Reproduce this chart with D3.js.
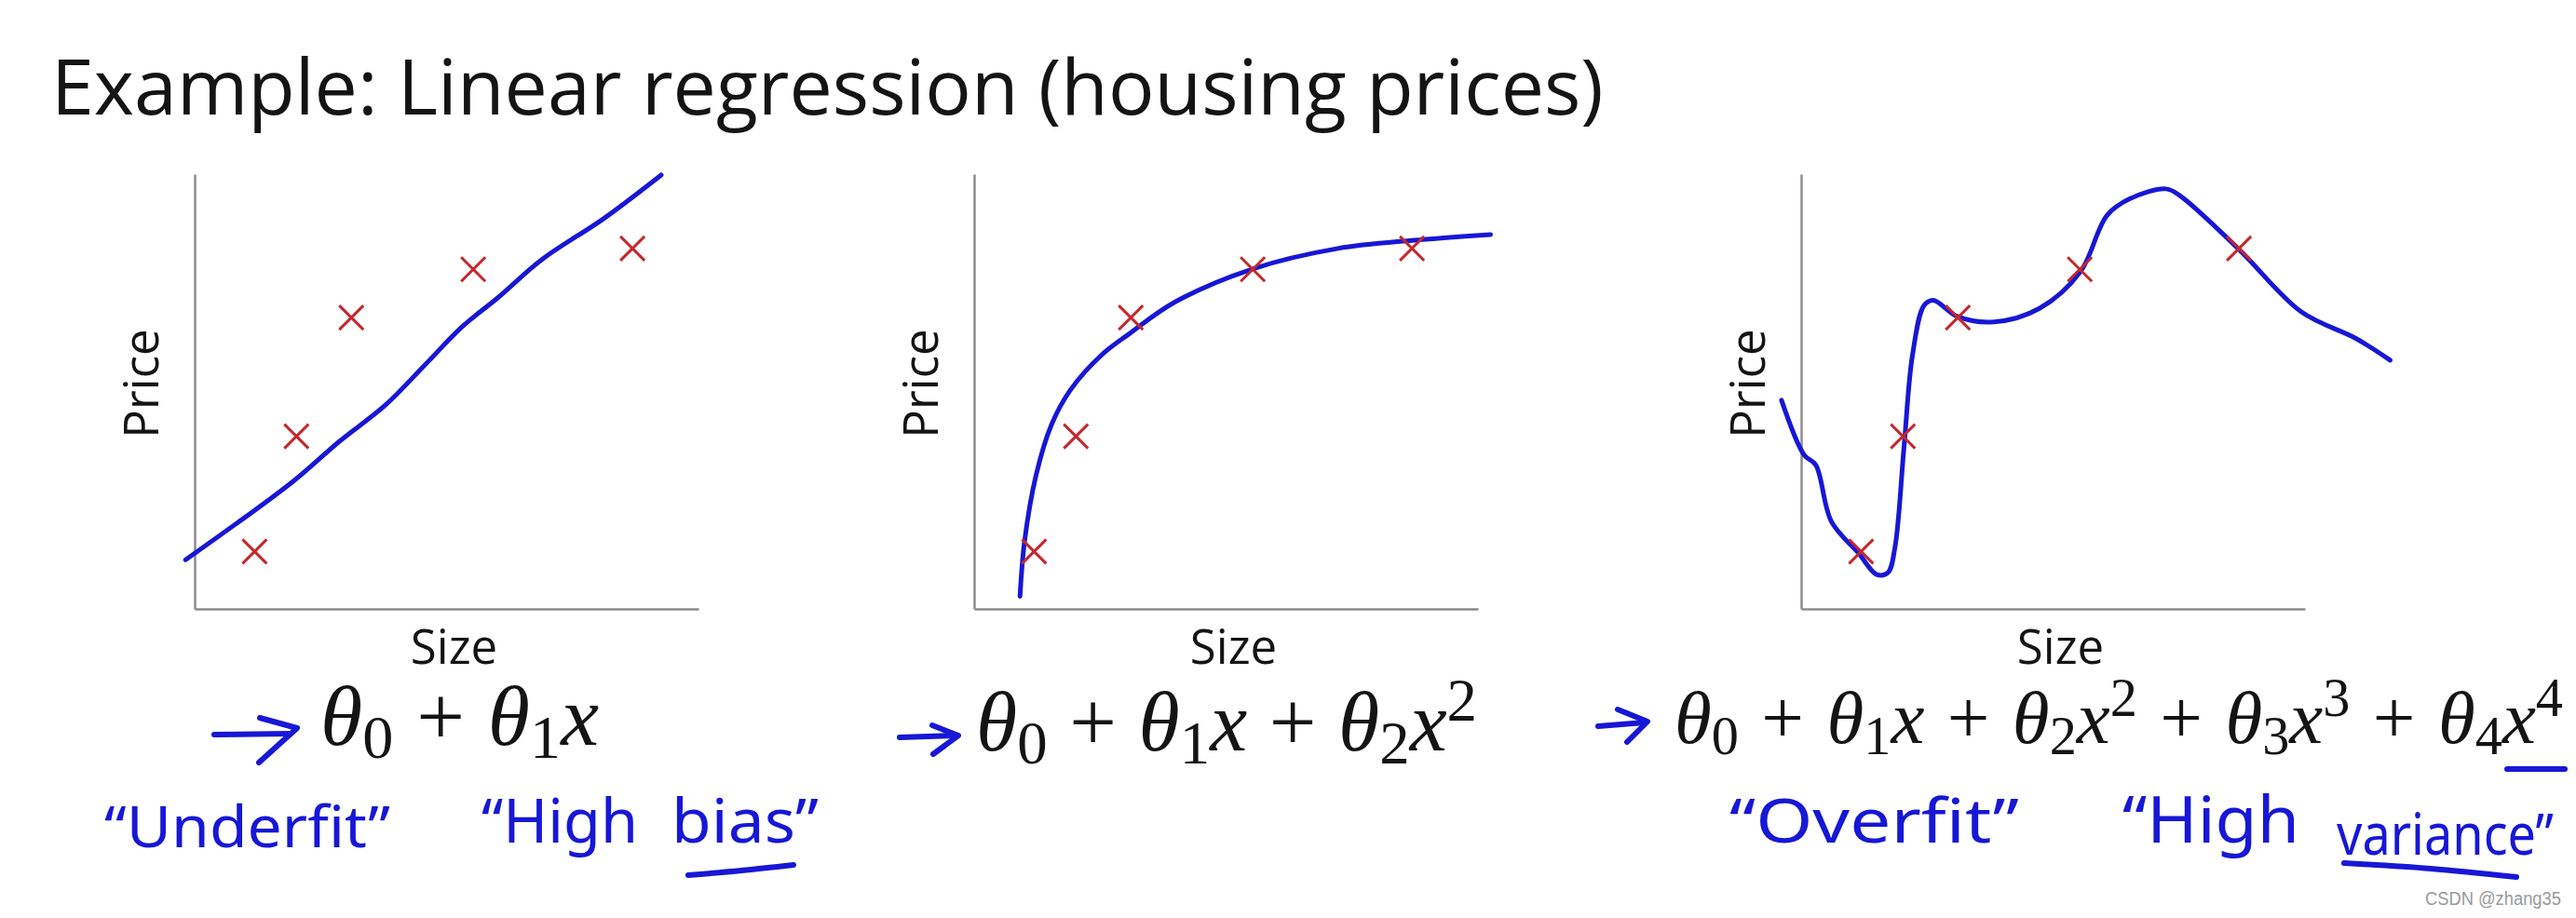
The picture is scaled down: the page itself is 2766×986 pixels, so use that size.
<!DOCTYPE html>
<html>
<head>
<meta charset="utf-8">
<script src="https://cdn.jsdelivr.net/npm/d3@7"></script>
<style>
	body { margin: 0; background: #fff; }
	svg { display: block; }
</style>
</head>
<body>
<svg id="chart" width="2766" height="986"></svg>
<script>
(function() {

// DATA

	var titleText = 'Example: Linear regression (housing prices)';
	var xLabel = 'Size';
	var yLabel = 'Price';
	var watermark = 'CSDN @zhang35';

	// the five houses, same in every panel (size / price on a 0-10 scale)
	var houseSize  = [1.19, 2.02, 3.11, 5.53, 8.69];
	var housePrice = [1.32, 3.97, 6.70, 7.81, 8.29];

	// hand drawn fits
	var fitLinSize   = [-0.18, 1.95, 2.87, 3.79, 4.57, 5.31, 5.99, 6.91, 8.11, 9.26];
	var fitLinPrice  = [1.13, 2.93, 3.85, 4.69, 5.61, 6.49, 7.13, 8.05, 8.97, 9.98];

	var fitQuadSize  = [0.91, 1.00, 1.23, 1.54, 1.92, 2.53, 3.07, 3.99, 5.53, 7.22, 8.75, 10.25];
	var fitQuadPrice = [0.29, 1.55, 3.08, 4.25, 5.05, 5.84, 6.32, 7.06, 7.82, 8.29, 8.48, 8.61];

	var fitQuartSize  = [-0.39, 0.06, 0.29, 0.60, 1.14, 1.50, 1.72, 1.86, 2.04, 2.21, 2.44, 2.62,
		3.11, 3.83, 4.73, 5.54, 6.07, 6.52, 7.24, 7.51, 8.68, 9.93, 11.01, 11.69];
	var fitQuartPrice = [4.80, 3.54, 3.31, 2.01, 1.28, 0.79, 0.83, 1.40, 3.70, 5.84, 6.98, 7.10,
		6.72, 6.60, 6.91, 7.75, 9.05, 9.43, 9.66, 9.51, 8.28, 6.83, 6.22, 5.72];

	var fitSizes  = [fitLinSize, fitQuadSize, fitQuartSize];
	var fitPrices = [fitLinPrice, fitQuadPrice, fitQuartPrice];

	// hypothesis degree under each panel
	var degrees = [1, 2, 4];

	// handwritten words under the formulas
	var noteWords = [
		['\u201CUnderfit\u201D', '\u201CHigh', 'bias\u201D'],
		[],
		['\u201COverfit\u201D', '\u201CHigh', 'variance\u201D']
	];

// LAYOUT

	var panelLeft = [209, 1046, 1934];
	var panelWidth = 541;
	var panelTop = 187;
	var panelBottom = 654;

	var formulaX = [344, 1048, 1798];
	var formulaW = [299, 538, 954];
	var formulaY = [800, 806, 798];
	var formulaSize = [92, 90, 81];

	// [x, width, baseline, font size] per word
	var noteWordPos = [
		[[112, 307, 910, 62], [517, 168, 905, 66], [721, 158, 905, 66]],
		[],
		[[1857, 311, 905, 66], [2279, 190, 905, 70], [2509, 233, 918, 62]]
	];

	var arrows = [
		{ shaft: [[230, 789], [312, 788]], head: [[279, 771], [319, 782], [278, 819]] },
		{ shaft: [[966, 792], [1026, 790]], head: [[1001, 779], [1029, 790], [1002, 810]] },
		{ shaft: [[1716, 780], [1766, 776]], head: [[1737, 762], [1769, 775], [1747, 797]] }
	];
	var underlines = [
		[[739, 940], [796, 935], [852, 929]],
		[[2692, 826], [2754, 826]],
		[[2517, 927], [2610, 933], [2702, 942]]
	];

	var blue = '#1717d6';
	var red = '#c4282c';
	var axisGrey = '#8c8c8c';
	var ink = '#141414';

	var svg = d3.select('#chart');
	svg.append('rect').attr('width', 2766).attr('height', 986).attr('fill', '#fff');

	// squeeze a text sideways so it spans exactly `width` px
	function fitText(text, x, y, width) {
		var len = text.node().getComputedTextLength();
		text.attr('x', 0).attr('y', 0)
			.attr('transform', 'translate(' + x + ',' + y + ') scale(' + (width / len) + ',1)');
	}

// TITLE

	var title = svg.append('text')
		.attr('font-family', "'Open Sans', 'Noto Sans', sans-serif")
		.attr('font-size', 82)
		.attr('fill', ink)
		.text(titleText);
	fitText(title, 55, 123, 1667);

// PANELS

	function drawPanel(i) {
		var g = svg.append('g').attr('class', 'panel');

		var x = d3.scaleLinear().domain([0, 10]).range([panelLeft[i], panelLeft[i] + panelWidth]);
		var y = d3.scaleLinear().domain([0, 10]).range([panelBottom, panelTop]);

		g.append('g')
			.attr('class', 'axis axis--x')
			.attr('transform', 'translate(0,' + panelBottom + ')')
			.call(d3.axisBottom(x).tickValues([]).tickSizeOuter(0));
		g.append('g')
			.attr('class', 'axis axis--y')
			.attr('transform', 'translate(' + panelLeft[i] + ',0)')
			.call(d3.axisLeft(y).tickValues([]).tickSizeOuter(0));
		g.selectAll('.axis .domain')
			.attr('stroke', axisGrey)
			.attr('stroke-width', 2.5);

		g.append('text')
			.attr('x', panelLeft[i] + panelWidth / 2 + 8)
			.attr('y', 713)
			.attr('text-anchor', 'middle')
			.attr('font-family', "'Open Sans', 'Noto Sans', sans-serif")
			.attr('font-size', 51)
			.attr('fill', ink)
			.text(xLabel);

		g.append('text')
			.attr('transform', 'translate(' + (panelLeft[i] - 39) + ',412) rotate(-90)')
			.attr('text-anchor', 'middle')
			.attr('font-family', "'Open Sans', 'Noto Sans', sans-serif")
			.attr('font-size', 51)
			.attr('fill', ink)
			.text(yLabel);

		var fit = d3.range(fitSizes[i].length).map(function(k) {
			return { size: fitSizes[i][k], price: fitPrices[i][k] };
		});
		var line = d3.line()
			.x(function(d) { return x(d.size); })
			.y(function(d) { return y(d.price); })
			.curve(d3.curveCatmullRom.alpha(0.5));

		g.append('path')
			.datum(fit)
			.attr('d', line)
			.attr('fill', 'none')
			.attr('stroke', blue)
			.attr('stroke-width', 5)
			.attr('stroke-linecap', 'round')
			.attr('stroke-linejoin', 'round');

		var houses = houseSize.map(function(s, k) { return { size: s, price: housePrice[k] }; });
		var cross = 13;
		g.selectAll('.house')
			.data(houses)
			.enter()
			.append('path')
			.attr('class', 'house')
			.attr('d', function(d) {
				var cx = x(d.size), cy = y(d.price);
				return 'M' + (cx - cross) + ',' + (cy - cross) + 'L' + (cx + cross) + ',' + (cy + cross) +
					'M' + (cx - cross) + ',' + (cy + cross) + 'L' + (cx + cross) + ',' + (cy - cross);
			})
			.attr('stroke', red)
			.attr('stroke-width', 3)
			.attr('fill', 'none');
	}

// FORMULAS

	function drawFormula(i) {
		var fs = formulaSize[i];
		var small = fs * 0.72;
		var subDy = fs * 0.15;
		var supDy = fs * 0.36;
		var shift = 0;

		var text = svg.append('text')
			.attr('x', formulaX[i])
			.attr('y', formulaY[i])
			.attr('font-family', "'Liberation Serif', 'DejaVu Serif', serif")
			.attr('font-size', fs)
			.attr('fill', ink);

		for (var k = 0; k <= degrees[i]; k++) {
			if (k > 0) {
				text.append('tspan').attr('class', 'op').attr('dy', -shift).text('+');
				shift = 0;
			}
			text.append('tspan').attr('font-style', 'italic').text('\u03B8');
			text.append('tspan').attr('font-size', small).attr('dy', subDy).text(k);
			shift = subDy;
			if (k > 0) {
				text.append('tspan').attr('font-style', 'italic').attr('dy', -shift).text('x');
				shift = 0;
				if (k > 1) {
					text.append('tspan').attr('font-size', small).attr('dy', -supDy).text(k);
					shift = -supDy;
				}
			}
		}

		// spread the extra width round the plus signs
		var natural = text.node().getComputedTextLength();
		var gap = (formulaW[i] - natural) / (2 * degrees[i]);
		text.selectAll('.op').each(function() {
			d3.select(this).attr('dx', gap);
			d3.select(this.nextSibling).attr('dx', gap);
		});
	}

// HANDWRITING

	var pen = d3.line().curve(d3.curveCatmullRom);

	function drawNotes(i) {
		var a = arrows[i];
		svg.append('path').attr('d', pen(a.shaft));
		svg.append('path').attr('d', d3.line()(a.head));

		noteWords[i].forEach(function(w, k) {
			var p = noteWordPos[i][k];
			var t = svg.append('text')
				.attr('font-family', "'Noto Sans', 'DejaVu Sans', sans-serif")
				.attr('font-size', p[3])
				.attr('fill', blue)
				.text(w);
			fitText(t, p[0], p[2], p[1]);
		});
	}

	d3.range(3).forEach(function(i) {
		drawPanel(i);
		drawFormula(i);
		drawNotes(i);
	});

	underlines.forEach(function(u) {
		svg.append('path').attr('d', pen(u));
	});

	svg.selectAll('path:not([stroke])')
		.attr('fill', 'none')
		.attr('stroke', blue)
		.attr('stroke-width', 6)
		.attr('stroke-linecap', 'round')
		.attr('stroke-linejoin', 'round');

	var mark = svg.append('text')
		.attr('font-family', "'Liberation Sans', 'DejaVu Sans', sans-serif")
		.attr('font-size', 20)
		.attr('fill', '#9a9a9a')
		.text(watermark);
	fitText(mark, 2604, 972, 146);

})()
</script>
</body>
</html>
